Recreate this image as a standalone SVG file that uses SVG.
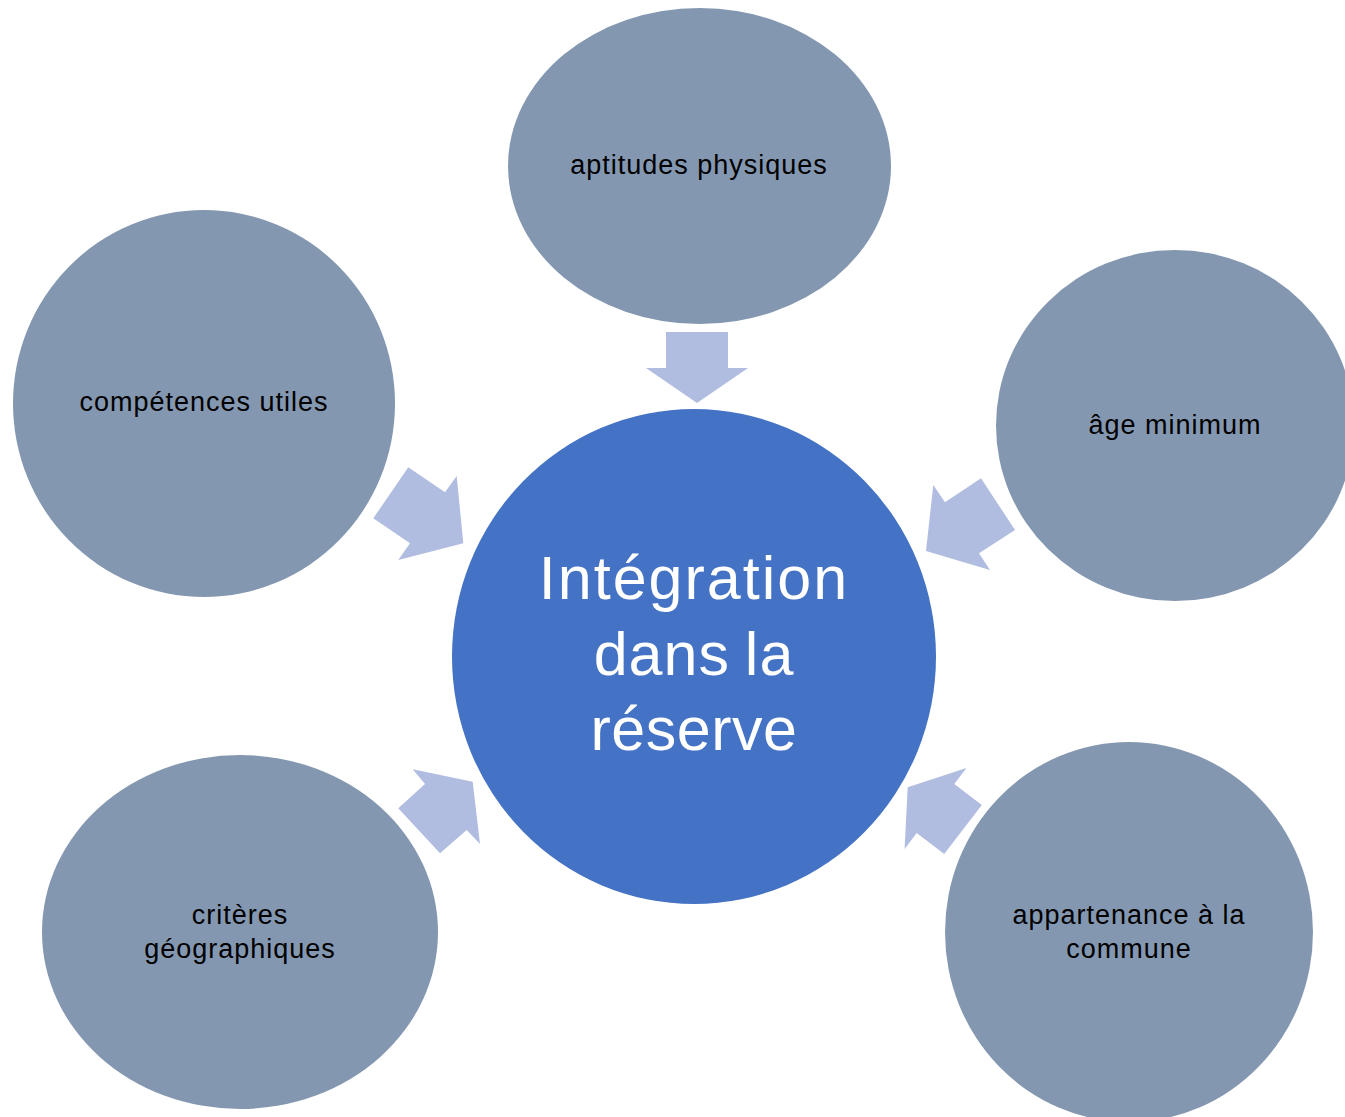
<svg xmlns="http://www.w3.org/2000/svg" width="1345" height="1117" viewBox="0 0 1345 1117">
  <style>
    .sat { fill: #8497B0; }
    .hub { fill: #4472C4; }
    .arrow { fill: #B1BDE0; }
    .lbl { font-family: "Liberation Sans", Arial, sans-serif; font-size: 27px; fill: #000; text-anchor: middle; letter-spacing: 1px; }
    .hubtxt { font-family: "Liberation Sans", Arial, sans-serif; font-size: 61px; fill: #fff; text-anchor: middle; letter-spacing: 2px; }
  </style>
  <rect width="1345" height="1117" fill="#fff"/>
  <g id="connectors">
    <polygon class="arrow" points="666,332 666,368 646,368 697,403 748,368 728,368 728,332"/>
    <polygon class="arrow" points="408.3,467.3 445,492.3 456.7,476 463.3,543.3 398.3,560 410,543.3 373.3,518.3"/>
    <polygon class="arrow" points="981,478.3 1015,530 979,553.3 990,570 926,551 933.3,485 945,502.3"/>
    <polygon class="arrow" points="412.7,769.3 472.7,781.7 480,844 466.7,830 440,853.3 398.3,808.3 425,784"/>
    <polygon class="arrow" points="981.8,804.9 954.3,783.9 966.4,768 907.7,787.3 904.6,849 916.7,833.1 944.2,854.1"/>
  </g>
  <g id="node-aptitudes">
    <ellipse class="sat" cx="699.5" cy="166" rx="191.5" ry="158"/>
    <text class="lbl" x="699" y="174">aptitudes physiques</text>
  </g>
  <g id="node-competences">
    <ellipse class="sat" cx="204" cy="403.5" rx="191" ry="193.5"/>
    <text class="lbl" x="204" y="411">compétences utiles</text>
  </g>
  <g id="node-age">
    <ellipse class="sat" cx="1175" cy="425.5" rx="179" ry="175.5"/>
    <text class="lbl" x="1175" y="434">âge minimum</text>
  </g>
  <g id="node-criteres">
    <ellipse class="sat" cx="240" cy="932" rx="198" ry="177"/>
    <text class="lbl" x="240" y="924">critères</text>
    <text class="lbl" x="240" y="958">géographiques</text>
  </g>
  <g id="node-appartenance">
    <ellipse class="sat" cx="1129" cy="932" rx="184" ry="190"/>
    <text class="lbl" x="1129" y="924">appartenance à la</text>
    <text class="lbl" x="1129" y="958">commune</text>
  </g>
  <g id="node-integration">
    <ellipse class="hub" cx="694" cy="656.5" rx="242" ry="247.5"/>
    <text class="hubtxt" x="694" y="599">Intégration</text>
    <text class="hubtxt" x="694" y="675" style="letter-spacing:1px;word-spacing:-3px">dans la</text>
    <text class="hubtxt" x="694" y="750" style="letter-spacing:0.5px">réserve</text>
  </g>
</svg>
